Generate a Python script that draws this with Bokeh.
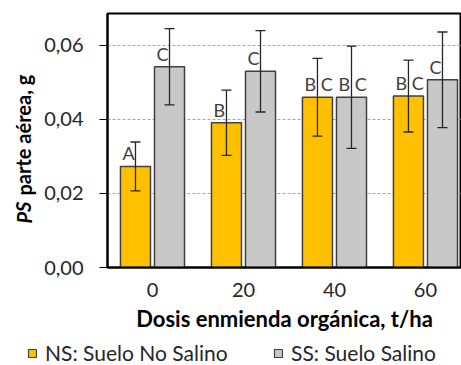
from bokeh.plotting import figure
from bokeh.models import ColumnDataSource, Whisker, Legend, LegendItem, FixedTicker, Range1d
from bokeh.layouts import row, column
from bokeh.core.properties import value
from bokeh.embed import file_html
from bokeh.resources import INLINE

# ---- data ----
doses = ["0", "20", "40", "60"]
ns_mean = [0.0273, 0.0391, 0.0460, 0.0463]
ns_err = [0.0066, 0.0088, 0.0105, 0.0097]
ss_mean = [0.0542, 0.0530, 0.0460, 0.0507]
ss_err = [0.0103, 0.0110, 0.0138, 0.0129]
ns_letters = ["A", "B", "B C", "B C"]
ss_letters = ["C", "C", "B C", "C"]
y_ticks = [0.0, 0.02, 0.04, 0.06]
y_tick_labels = ["0,00", "0,02", "0,04", "0,06"]
ns_name = "NS: Suelo No Salino"
ss_name = "SS: Suelo Salino"
y_title_italic = "PS"
y_title_rest = "parte aérea, g"

FONT = "Lato"
YELLOW = "#FFC000"
GRAY = "#C8C8C8"
EDGE = "#404040"
TXT = "#262626"

idx = list(range(len(doses)))
off = 0.187
bw = 0.33

ns_src = ColumnDataSource(dict(
    x=[i - off for i in idx], top=ns_mean,
    lo=[m - e for m, e in zip(ns_mean, ns_err)],
    hi=[m + e for m, e in zip(ns_mean, ns_err)],
    lx=[i - off - bw / 2 for i in idx], lab=ns_letters))
ss_src = ColumnDataSource(dict(
    x=[i + off for i in idx], top=ss_mean,
    lo=[m - e for m, e in zip(ss_mean, ss_err)],
    hi=[m + e for m, e in zip(ss_mean, ss_err)],
    lx=[i + off - bw / 2 for i in idx], lab=ss_letters))

# ---- main plot ----
p = figure(width=421, height=338, output_backend="svg", toolbar_location=None,
           x_range=Range1d(-0.4945, 3.396), y_range=Range1d(0, 0.0686))
p.min_border_left = 67
p.min_border_right = 0
p.min_border_top = 13
p.min_border_bottom = 71
p.background_fill_color = "white"
p.border_fill_color = "white"
p.outline_line_color = "black"
p.outline_line_width = 2

r_ns = p.vbar(x="x", top="top", width=bw, source=ns_src, fill_color=YELLOW,
              line_color=EDGE, line_width=1.5)
r_ss = p.vbar(x="x", top="top", width=bw, source=ss_src, fill_color=GRAY,
              line_color=EDGE, line_width=1.5)

for src in (ns_src, ss_src):
    p.text(x="lx", y="top", text="lab", source=src, x_offset=2, y_offset=-2,
           text_align="left", text_baseline="bottom",
           text_font=value(FONT), text_font_size="18px", text_color="#404040")
    w = Whisker(base="x", lower="lo", upper="hi", source=src,
                line_color=TXT, line_width=1.3, level="annotation")
    for h in (w.upper_head, w.lower_head):
        h.size = 10
        h.line_color = TXT
        h.line_width = 1.3
    p.add_layout(w)

# axes
p.xaxis.ticker = FixedTicker(ticks=idx)
p.xaxis.major_label_overrides = {i: d for i, d in zip(idx, doses)}
p.xaxis.major_tick_line_color = None
p.xaxis.minor_tick_line_color = None
p.xaxis.axis_line_color = "black"
p.xaxis.axis_line_width = 2
p.xaxis.major_label_standoff = 9
p.xaxis.major_label_text_font = FONT
p.xaxis.major_label_text_font_size = "20px"
p.xaxis.major_label_text_color = TXT
p.xaxis.axis_label = "Dosis enmienda orgánica, t/ha"
p.xaxis.axis_label_text_font = FONT
p.xaxis.axis_label_text_font_size = "22px"
p.xaxis.axis_label_text_font_style = "bold"
p.xaxis.axis_label_text_color = "black"
p.xaxis.axis_label_standoff = 5

p.yaxis.ticker = FixedTicker(ticks=y_ticks)
p.yaxis.major_label_overrides = {t: l for t, l in zip(y_ticks, y_tick_labels)}
p.yaxis.minor_tick_line_color = None
p.yaxis.major_tick_in = 0
p.yaxis.major_tick_out = 8
p.yaxis.major_tick_line_color = "black"
p.yaxis.axis_line_color = "black"
p.yaxis.axis_line_width = 2
p.yaxis.major_label_standoff = 16
p.yaxis.major_label_text_font = FONT
p.yaxis.major_label_text_font_size = "20px"
p.yaxis.major_label_text_color = TXT

p.xgrid.grid_line_color = None
p.ygrid.grid_line_color = "#A6A6A6"
p.ygrid.grid_line_dash = "3 2"
p.ygrid.grid_line_width = 1

# ---- y-axis title panel (italic "PS") ----
# its frame is aligned with the main frame (254 px tall), ranges = pixels
yl = figure(width=40, height=338, output_backend="svg", toolbar_location=None,
            x_axis_location=None, y_axis_location=None,
            x_range=Range1d(0, 40), y_range=Range1d(0, 254), min_border=0)
yl.outline_line_color = None
yl.grid.grid_line_color = None
yl.text(x=[23], y=[44], text=[y_title_italic], angle=1.5708,
        text_align="left", text_baseline="middle", text_font=value(FONT),
        text_font_size="20px", text_font_style="bold italic", text_color="black")
yl.text(x=[23], y=[72], text=[y_title_rest], angle=1.5708,
        text_align="left", text_baseline="middle", text_font=value(FONT),
        text_font_size="20px", text_font_style="bold", text_color="black")

# ---- legend panel (same sources; the bars fall outside its visible range) ----
lg = figure(width=461, height=27, output_backend="svg", toolbar_location=None,
            x_axis_location=None, y_axis_location=None,
            x_range=Range1d(-0.5, 3.5), y_range=Range1d(1, 2), min_border=0)
lg.outline_line_color = None
lg.grid.grid_line_color = None
d_ns = lg.vbar(x="x", top="top", width=bw, source=ns_src, fill_color=YELLOW,
               line_color=EDGE, line_width=1.2)
d_ss = lg.vbar(x="x", top="top", width=bw, source=ss_src, fill_color=GRAY,
               line_color=EDGE, line_width=1.2)
for r, name, loc in ((d_ns, ns_name, (27, 0)), (d_ss, ss_name, (273, 0))):
    leg = Legend(items=[LegendItem(label=name, renderers=[r])], location=loc)
    leg.glyph_width = 10
    leg.glyph_height = 10
    leg.label_standoff = 8
    leg.padding = 0
    leg.margin = 0
    leg.border_line_color = None
    leg.background_fill_alpha = 0
    leg.label_text_font = FONT
    leg.label_text_font_size = "21px"
    leg.label_text_color = TXT
    lg.add_layout(leg, "center")

layout = column(row(yl, p), lg)
open("out.html", "w").write(file_html(layout, INLINE))
